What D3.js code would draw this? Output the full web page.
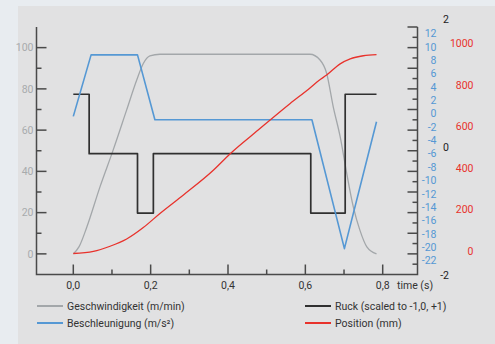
<!DOCTYPE html>
<html>
<head>
<meta charset="utf-8">
<script src="https://cdn.jsdelivr.net/npm/d3@7"></script>
<style>
body { margin: 0; background: #e8ecf0; }
svg { display: block; font-family: Roboto, "Open Sans", sans-serif; }
</style>
</head>
<body>
<svg id="svg" width="495" height="344"></svg>
<script>
// x axis (time in s)
var timeTicks = [0, 0.2, 0.4, 0.6, 0.8];
var timeMinor = [0.1, 0.3, 0.5, 0.7];

// Geschwindigkeit (m/min), left axis
var speedTime  = [0, 0.015, 0.035, 0.069, 0.103, 0.138, 0.164, 0.181, 0.198, 0.224,
                  0.612, 0.638, 0.655, 0.672, 0.690, 0.707, 0.724, 0.741, 0.759, 0.784];
var speedValue = [0, 3.5, 13, 32.5, 50.3, 69.8, 84.3, 92.3, 96.0, 96.8,
                  96.8, 94, 87.6, 71.4, 56.8, 39, 22.8, 11.5, 3.4, 0];
var speedTicks = [0, 20, 40, 60, 80, 100];

// Beschleunigung (m/s²), blue labels
var accelTime  = [0, 0.046, 0.166, 0.211, 0.617, 0.701, 0.784];
var accelValue = [-0.4, 8.8, 8.8, -0.9, -0.9, -20.2, -1.2];
var accelTicks = [12, 10, 8, 6, 4, 2, 0, -2, -4, -6, -8, -10, -12, -14, -16, -18, -20, -22];

// Ruck (scaled to -1,0,+1), black labels
var ruckTime  = [0, 0.041, 0.166, 0.207, 0.614, 0.703, 0.784];
var ruckValue = [0.83, -0.1, -1.03, -0.1, -1.03, 0.83, 0.83];
var ruckTicks = [2, 0, -2];

// Position (mm), red labels
var posTime  = [0, 0.052, 0.095, 0.138, 0.181, 0.224, 0.284, 0.362, 0.405, 0.478,
                0.560, 0.612, 0.635, 0.655, 0.690, 0.716, 0.750, 0.784];
var posValue = [0, 10, 35, 70, 125, 193, 281, 401, 480, 595,
                722, 798, 834, 860, 914, 938, 953, 958];
var posTicks = [0, 200, 400, 600, 800, 1000];

var colors = {
    speed: '#a3a7aa',
    accel: '#5598d4',
    ruck: '#303030',
    pos: '#e8322c',
    axis: '#4a4a4a'
};

var svg = d3.select('#svg');
var leftX = 36.5, rightX = 417.5, bottomY = 274.5, topY = 27;

var x = d3.scaleLinear().domain([0, 0.8]).range([73.3, 382.7]);
var ySpeed = d3.scaleLinear().domain([-10, 110]).range([bottomY, topY]);
var yAccel = d3.scaleLinear().domain([-22, 12]).range([260.7, 33.5]);
var yRuck = d3.scaleLinear().domain([-2, 2]).range([275, 19.5]);
var yPos = d3.scaleLinear().domain([0, 1000]).range([253.5, 46]);

var comma = function(d) { return d3.format('.1f')(d).replace('.', ','); };

// background panel
svg.append('rect').attr('width', 495).attr('height', 344).attr('fill', '#e8ecf0');
svg.append('rect').attr('x', 18).attr('y', 6).attr('width', 477).attr('height', 338)
    .attr('fill', '#e1e1e2');

// axis lines
var axes = svg.append('g').attr('stroke', colors.axis).attr('stroke-width', 1.5);
axes.append('path')
    .attr('fill', 'none')
    .attr('d', 'M' + leftX + ',' + topY + 'V' + bottomY + 'H' + rightX + 'V' + topY);

// left ticks (pointing inside)
axes.selectAll('.lt')
    .data(d3.range(0, 101, 10))
    .enter().append('line')
    .attr('x1', leftX)
    .attr('x2', function(d) { return leftX + (d % 20 === 0 ? 10 : 5); })
    .attr('y1', function(d) { return ySpeed(d); })
    .attr('y2', function(d) { return ySpeed(d); });

// right ticks
axes.selectAll('.rt')
    .data(d3.range(-5, 111, 5))
    .enter().append('line')
    .attr('x1', rightX)
    .attr('x2', function(d) { return rightX - (d % 10 === 0 ? 10 : 5); })
    .attr('y1', function(d) { return ySpeed(d); })
    .attr('y2', function(d) { return ySpeed(d); });

// x ticks (pointing up)
axes.selectAll('.xt')
    .data(timeTicks.concat(timeMinor))
    .enter().append('line')
    .attr('x1', function(d) { return x(d); })
    .attr('x2', function(d) { return x(d); })
    .attr('y1', bottomY)
    .attr('y2', function(d) { return bottomY - (timeTicks.indexOf(d) >= 0 ? 10 : 5); });

// tick labels
function labels(data, cls, fill, anchor, xpos, ypos, fmt, dy) {
    svg.append('g').selectAll('text')
        .data(data)
        .enter().append('text')
        .attr('class', cls)
        .attr('x', xpos)
        .attr('y', ypos)
        .attr('dy', dy)
        .attr('text-anchor', anchor)
        .attr('fill', fill)
        .attr('font-size', 10.5)
        .text(fmt);
}

labels(speedTicks, 'speed', '#a8abad', 'end', 33.5,
    function(d) { return ySpeed(d); }, function(d) { return d; }, '0.35em');
labels(accelTicks, 'accel', colors.accel, 'end', 436.5,
    function(d) { return yAccel(d); }, function(d) { return d; }, '0.35em');
labels(ruckTicks, 'ruck', '#222', 'end', 449,
    function(d) { return yRuck(d); }, function(d) { return d; }, '0.35em');
labels(posTicks, 'pos', colors.pos, 'end', 473.5,
    function(d) { return yPos(d); }, function(d) { return d; }, '0.12em');
labels(timeTicks, 'time', '#333', 'middle',
    function(d) { return x(d); }, 285.5, comma, '0.35em');

svg.append('text')
    .attr('x', 397).attr('y', 285.5).attr('dy', '0.35em')
    .attr('font-size', 10.5).attr('fill', '#333')
    .text('time (s)');

// series
function series(times, values, yScale, curve, color, width) {
    var pts = times.map(function(t, i) { return [t, values[i]]; });
    var line = d3.line()
        .x(function(d) { return x(d[0]); })
        .y(function(d) { return yScale(d[1]); })
        .curve(curve);
    svg.append('path')
        .datum(pts)
        .attr('fill', 'none')
        .attr('stroke', color)
        .attr('stroke-width', width)
        .attr('stroke-linejoin', 'round')
        .attr('d', line);
}

series(speedTime, speedValue, ySpeed, d3.curveMonotoneX, colors.speed, 1.3);
series(ruckTime, ruckValue, yRuck, d3.curveStepAfter, colors.ruck, 1.7);
series(accelTime, accelValue, yAccel, d3.curveLinear, colors.accel, 1.6);
series(posTime, posValue, yPos, d3.curveMonotoneX, colors.pos, 1.3);

// legend
var legendItems = [
    { label: 'Geschwindigkeit (m/min)', color: colors.speed, x: 37, y: 306 },
    { label: 'Beschleunigung (m/s²)', color: colors.accel, x: 37, y: 323 },
    { label: 'Ruck (scaled to -1,0, +1)', color: colors.ruck, x: 305, y: 306 },
    { label: 'Position (mm)', color: colors.pos, x: 305, y: 323 }
];
var legend = svg.append('g').selectAll('g')
    .data(legendItems)
    .enter().append('g')
    .attr('transform', function(d) { return 'translate(' + d.x + ',' + d.y + ')'; });
legend.append('line')
    .attr('x1', 0).attr('x2', 26)
    .attr('stroke', function(d) { return d.color; })
    .attr('stroke-width', 2);
legend.append('text')
    .attr('x', 30).attr('dy', '0.35em')
    .attr('font-size', 10.5).attr('fill', '#333')
    .text(function(d) { return d.label; });
</script>
</body>
</html>
